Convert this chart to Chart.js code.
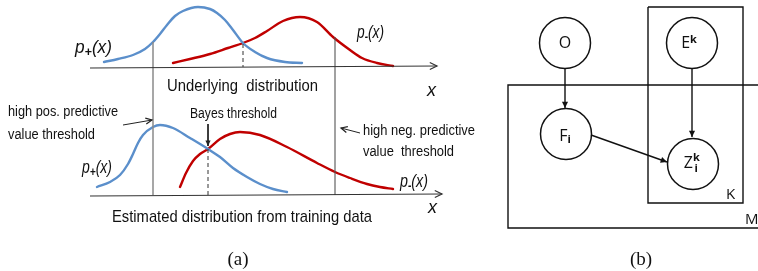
<!DOCTYPE html>
<html>
<head>
<meta charset="utf-8">
<style>
  html, body { margin: 0; padding: 0; background: #fff; }
  canvas { display: block; }
</style>
<script src="https://cdn.jsdelivr.net/npm/chart.js@4.4.1/dist/chart.umd.min.js"></script>
</head>
<body>
<canvas id="fig" width="758" height="271"></canvas>
<script>
const SANS = "'Liberation Sans', Arial, sans-serif";
const NODE = "'Open Sans', 'Liberation Sans', sans-serif";
const SERIF = "'Liberation Serif', 'DejaVu Serif', serif";
const BLUE = "#5b8fcb";
const RED = "#c00000";

// curves, [x, y] in figure pixels
const posTop = [[104,62],[118,59],[133,55],[145,49],[153,42],[160,34],[167,25],[175,16],[183,11],[198,7],[210,9],[217,13],[225,20],[233,30],[243,43],[255,52],[267,58],[285,62],[302,63]];
const negTop = [[173,63],[190,59],[210,54],[228,48],[243,43],[255,38],[267,31],[283,21],[300,17],[317,22],[333,37],[350,50],[362,58],[377,63],[393,66]];
const posBot = [[97,187],[110,182],[120,175],[128,164],[133,154],[138,143],[143,135],[153,127],[160,125],[173,128],[190,138],[208,149],[220,157],[233,168],[247,177],[260,184],[273,189],[287,192]];
const negBot = [[180,187],[186,173],[193,161],[200,154],[208,149],[220,139],[230,134],[240,132],[260,135],[287,147],[317,163],[335,172],[350,178],[367,184],[380,187],[393,189]];

const axisTop = [[90,68],[437,66]];
const axisBot = [[90,196],[442,194]];
const thrLeft = [[153,42],[153,195]];
const thrRight = [[335,37],[335,195]];
const bayesTop = [[243,44],[243,67]];
const bayesBot = [[208,149],[208,195]];

const arrowPos = [[123,125],[152,120]];
const arrowNeg = [[360,133],[341,128]];
const arrowBayes = [[208,124],[208,146]];

// graphical model
const nodes = [[565,43],[692,43],[566,134],[693,164]];
const plateK = [[648,7],[743,7],[743,203],[648,203],[648,7]];
const plateM = [[770,85],[508,85],[508,228],[770,228]];
const edgeOF = [[565,68],[565,108]];
const edgeEZ = [[692,68],[692,137]];
const edgeFZ = [[591,135],[667,162]];

const pts = (arr) => arr.map(([x, y]) => ({ x, y }));

function line(data, color, width, extra) {
  return Object.assign({
    data: pts(data),
    showLine: true,
    borderColor: color,
    backgroundColor: color,
    borderWidth: width,
    pointRadius: 0,
    fill: false,
    tension: 0
  }, extra || {});
}

function curve(data, color) {
  return line(data, color, 2.4, { cubicInterpolationMode: "monotone", borderCapStyle: "round" });
}

const labels = [
  { parts: [["p"], ["+", "sub"], ["(x)"]], x: 75, y: 48, size: 18, italic: true, w: 37 },
  { parts: [["p"], ["-", "sub"], ["(x)"]], x: 357, y: 33, size: 18, italic: true, w: 27 },
  { parts: [["p"], ["+", "sub"], ["(x)"]], x: 82, y: 168, size: 18, italic: true, w: 30 },
  { parts: [["p"], ["-", "sub"], ["(x)"]], x: 400, y: 182, size: 18, italic: true, w: 28 },
  { parts: [["x"]], x: 427, y: 91, size: 18, italic: true },
  { parts: [["x"]], x: 428, y: 208, size: 18, italic: true },
  { parts: [["Underlying  distribution"]], x: 167, y: 86, size: 17, w: 151 },
  { parts: [["Estimated distribution from training data"]], x: 112, y: 217, size: 17, w: 260 },
  { parts: [["high pos. predictive"]], x: 8, y: 112, size: 14, w: 110 },
  { parts: [["value threshold"]], x: 8, y: 135, size: 14, w: 87 },
  { parts: [["Bayes threshold"]], x: 190, y: 114, size: 14, w: 87 },
  { parts: [["high neg. predictive"]], x: 363, y: 131, size: 14, w: 112 },
  { parts: [["value  threshold"]], x: 363, y: 152, size: 14, w: 91 },
  { parts: [["O"]], x: 565, y: 43, size: 16, font: NODE, align: "center" },
  { parts: [["E"], ["k", "sup"]], x: 689, y: 43, size: 16, font: NODE, align: "center", supDy: -3.5 },
  { parts: [["F"], ["i", "sub"]], x: 565, y: 136, size: 16, font: NODE, align: "center", subDy: 3.5 },
  { parts: [["Z"], ["k", "sup", true], ["i", "sub"]], x: 690, y: 163, size: 16, font: NODE, align: "center", supDy: -5, subDy: 5.5 },
  { parts: [["K"]], x: 726, y: 195, size: 15, font: NODE },
  { parts: [["M"]], x: 745, y: 220, size: 15, font: NODE },
  { parts: [["(a)"]], x: 238, y: 260, size: 19, font: SERIF, align: "center" },
  { parts: [["(b)"]], x: 641, y: 260, size: 19, font: SERIF, align: "center" }
];

function fontFor(lab, kind) {
  const size = kind ? Math.round(lab.size * 0.7) : lab.size;
  const st = lab.italic ? "italic " : "";
  const wt = kind ? "bold " : "";
  return st + wt + size + "px " + (lab.font || SANS);
}

function drawLabel(ctx, lab, px, py) {
  let total = 0;
  const segs = lab.parts.map(([t, kind, stack]) => {
    ctx.font = fontFor(lab, kind);
    const w = ctx.measureText(t).width;
    const seg = { t, kind, w, adv: stack ? 0 : w };
    total += seg.adv;
    return seg;
  });
  const sx = lab.w ? lab.w / total : 1;
  const x0 = lab.align === "center" ? px - (total * sx) / 2 : px;
  const subDy = lab.subDy != null ? lab.subDy : lab.size * 0.24;
  const supDy = lab.supDy != null ? lab.supDy : -lab.size * 0.2;
  ctx.save();
  ctx.translate(x0, py);
  ctx.scale(sx, 1);
  ctx.fillStyle = "#111";
  ctx.textBaseline = "middle";
  ctx.textAlign = "left";
  let cx = 0;
  segs.forEach((s, i) => {
    ctx.font = fontFor(lab, s.kind);
    const dy = s.kind === "sub" ? subDy : s.kind === "sup" ? supDy : 0;
    const shift = i > 0 && segs[i - 1].adv === 0 ? 1.5 : 0;
    ctx.fillText(s.t, cx + shift, dy);
    cx += s.adv;
  });
  ctx.restore();
}

function drawHead(ctx, x1, y1, x2, y2, size, open, color) {
  const a = Math.atan2(y2 - y1, x2 - x1);
  const s = 0.45;
  ctx.save();
  ctx.strokeStyle = color;
  ctx.fillStyle = color;
  ctx.lineWidth = 1.2;
  ctx.beginPath();
  ctx.moveTo(x2 - size * Math.cos(a - s), y2 - size * Math.sin(a - s));
  ctx.lineTo(x2, y2);
  ctx.lineTo(x2 - size * Math.cos(a + s), y2 - size * Math.sin(a + s));
  if (open) {
    ctx.stroke();
  } else {
    ctx.closePath();
    ctx.fill();
  }
  ctx.restore();
}

const decor = {
  id: "decor",
  afterDatasetsDraw(chart) {
    const { ctx, scales } = chart;
    chart.data.datasets.forEach((ds) => {
      if (!ds.head) return;
      const n = ds.data.length;
      const a = ds.data[n - 2], b = ds.data[n - 1];
      drawHead(ctx,
        scales.x.getPixelForValue(a.x), scales.y.getPixelForValue(a.y),
        scales.x.getPixelForValue(b.x), scales.y.getPixelForValue(b.y),
        ds.head.size, ds.head.open, ds.borderColor);
    });
    labels.forEach((lab) => {
      drawLabel(ctx, lab, scales.x.getPixelForValue(lab.x), scales.y.getPixelForValue(lab.y));
    });
  }
};

const datasets = [
  line(axisTop, "#333", 1.2, { head: { size: 8, open: true } }),
  line(axisBot, "#333", 1.2, { head: { size: 8, open: true } }),
  line(thrLeft, "#8a8a8a", 1.5),
  line(thrRight, "#555", 1.1),
  line(bayesTop, "#333", 1, { borderDash: [4, 3] }),
  line(bayesBot, "#333", 1, { borderDash: [4, 3] }),
  curve(posTop, BLUE),
  curve(negTop, RED),
  curve(posBot, BLUE),
  curve(negBot, RED),
  line(arrowPos, "#222", 1, { head: { size: 7, open: true } }),
  line(arrowNeg, "#222", 1, { head: { size: 7, open: true } }),
  line(arrowBayes, "#222", 1, { head: { size: 6, open: false } }),
  line(plateK, "#111", 1.4),
  line(plateM, "#111", 1.4),
  line(edgeOF, "#111", 1.4, { head: { size: 7, open: false } }),
  line(edgeEZ, "#111", 1.4, { head: { size: 7, open: false } }),
  line(edgeFZ, "#111", 1.4, { head: { size: 7, open: false } }),
  {
    data: pts(nodes),
    showLine: false,
    pointRadius: 25.5,
    pointBorderWidth: 1.5,
    pointBorderColor: "#111",
    pointBackgroundColor: "#fff"
  }
];

new Chart(document.getElementById("fig"), {
  type: "scatter",
  data: { datasets },
  options: {
    responsive: false,
    animation: false,
    devicePixelRatio: 1,
    layout: { padding: 0, autoPadding: false },
    plugins: { legend: { display: false }, tooltip: { enabled: false } },
    scales: {
      x: { type: "linear", min: 0, max: 758, display: false },
      y: { type: "linear", min: 0, max: 271, reverse: true, display: false }
    }
  },
  plugins: [decor]
});
</script>
</body>
</html>
